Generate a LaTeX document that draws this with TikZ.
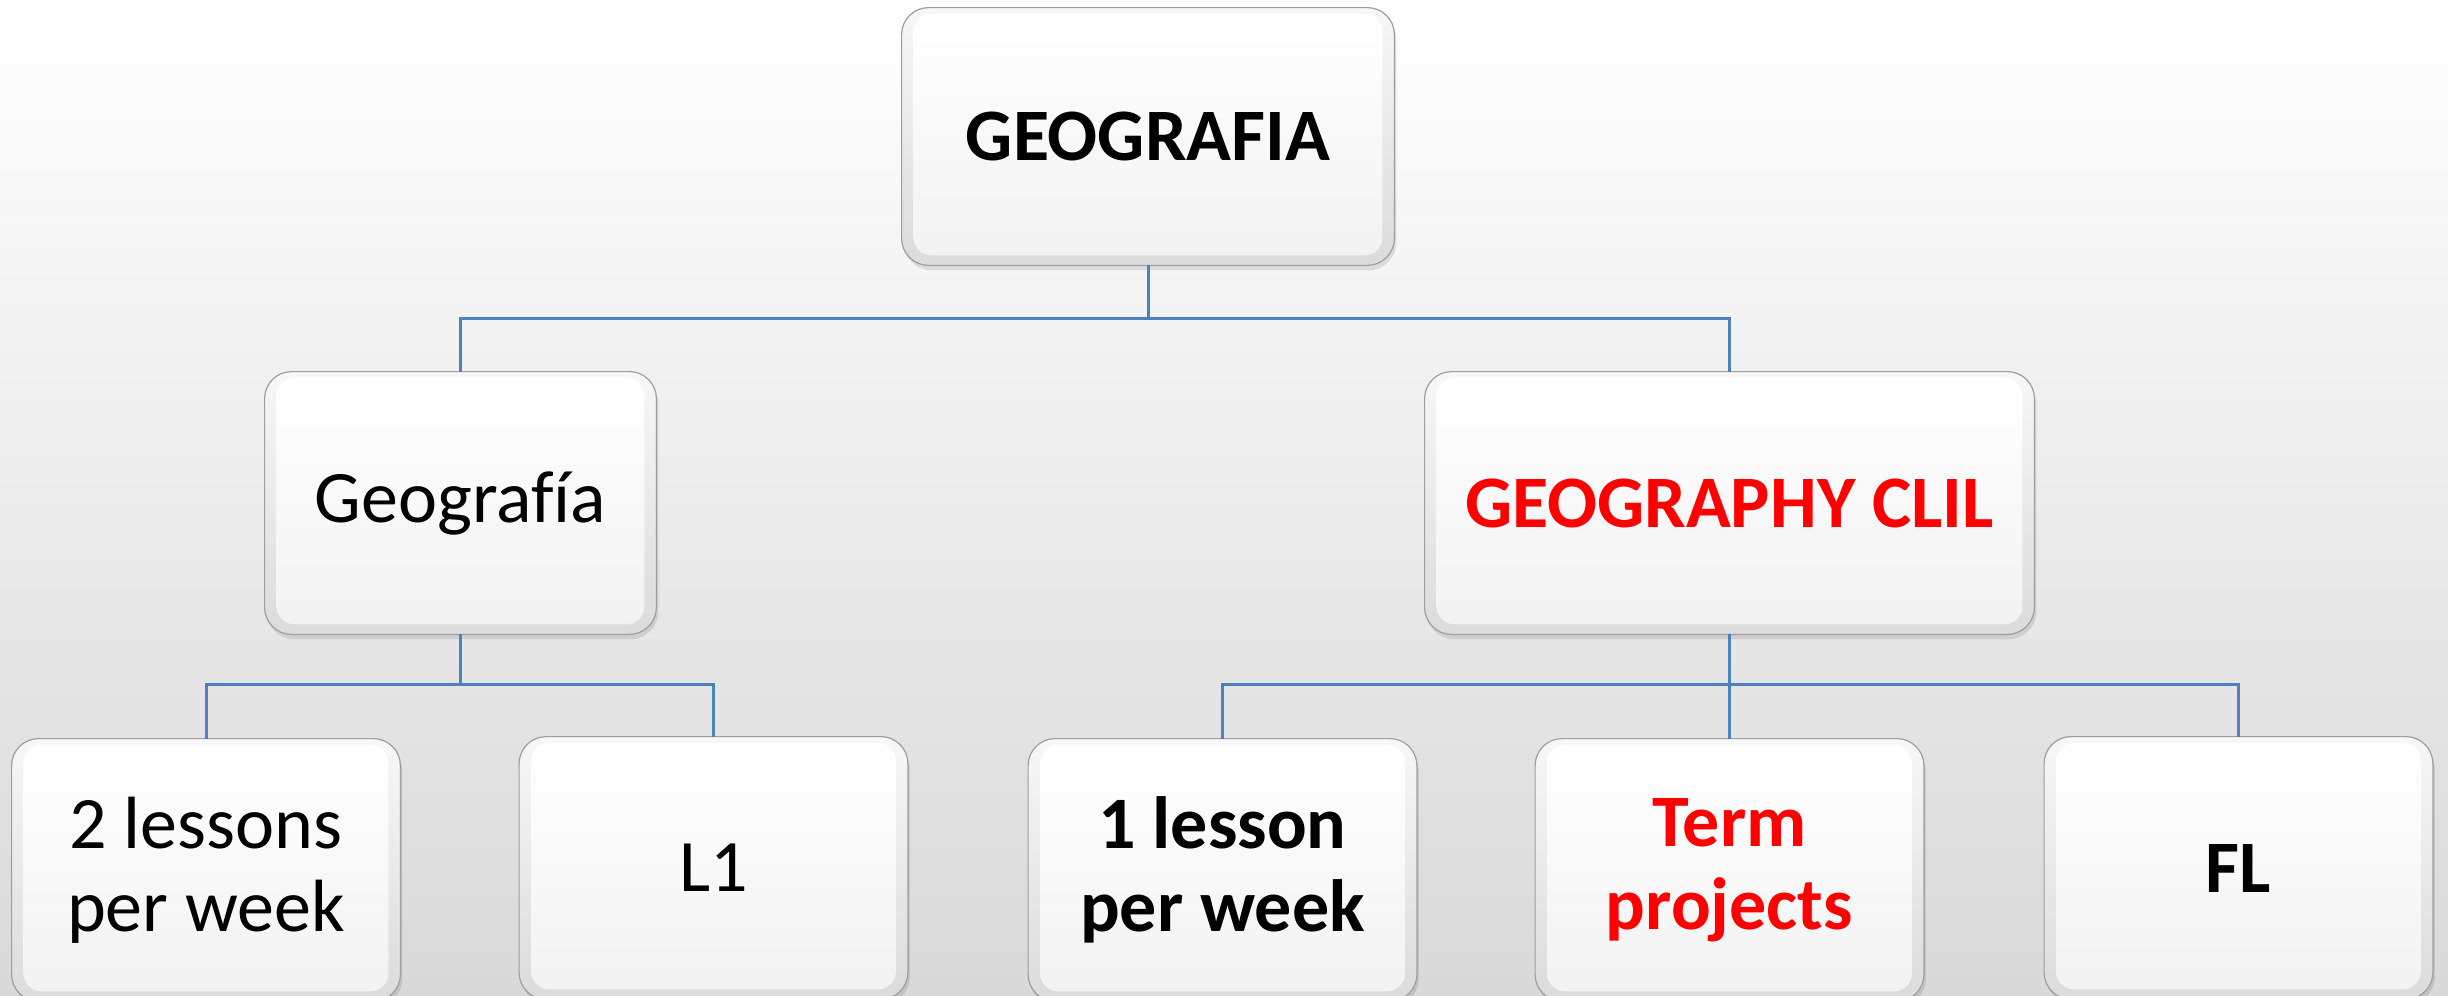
\documentclass[tikz,border=0pt]{standalone}
\usepackage{fontspec}
\setmainfont{Carlito}[Ligatures={NoCommon}]
\usetikzlibrary{backgrounds}
\definecolor{conncol}{RGB}{79,129,189}
\definecolor{redtxt}{RGB}{255,0,0}
\newcommand\bevelbox[1]{%
  \fill[black, opacity=0.10, rounded corners=14pt] ([xshift=1pt,yshift=-2.5pt]#1.south west) rectangle ([xshift=1pt,yshift=-2.5pt]#1.north east);
  \shade[rounded corners=13.5pt, top color=black!3, bottom color=black!14] (#1.south west) rectangle (#1.north east);
  \draw[rounded corners=13.5pt, draw=black!38, line width=0.6pt] (#1.south west) rectangle (#1.north east);
  \shade[rounded corners=9pt, top color=white, middle color=white, bottom color=black!5] ([xshift=6pt,yshift=5pt]#1.south west) rectangle ([xshift=-6pt,yshift=-3pt]#1.north east);
}
\begin{document}
\begin{tikzpicture}[x=0.5pt,y=-0.5pt,
  box/.style={inner sep=0pt, align=center, font=\fontsize{37pt}{41.5pt}\selectfont},
  hbox/.style={inner sep=0pt, align=center, font=\fontsize{37pt}{41.5pt}\selectfont\bfseries},
  midsize/.style={minimum width=195.5pt, minimum height=131pt},
  lowsize/.style={minimum width=194pt, minimum height=131pt},
  conn/.style={draw=conncol, line width=1.5pt}]
\useasboundingbox (0,0) rectangle (2448,996);
\clip (0,0) rectangle (2448,996);

% nodes
\node[hbox, minimum width=246pt, minimum height=128.5pt] (top) at (1148,136.5) {GEOGRAFIA};
\node[box, midsize] (geo) at (460.5,503) {Geografía};
\node[hbox, text=redtxt, minimum width=304.5pt, minimum height=131pt] (clil) at (1729.5,503) {GEOGRAPHY CLIL};
\node[box, lowsize] (b1) at (206,870) {2 lessons\\per week};
\node[box, lowsize] (b2) at (713.5,868) {L1};
\node[hbox, lowsize] (b3) at (1222.5,870) {1 lesson\\per week};
\node[hbox, text=redtxt, lowsize] (b4) at (1729.5,870) {Term\\projects};
\node[hbox, lowsize] (b5) at (2238.5,868) {FL};

\begin{pgfonlayer}{background}
  \shade[top color=white, bottom color=black!15] (0,0) rectangle (2448,996);
  \bevelbox{top}
  \bevelbox{geo}
  \bevelbox{clil}
  \bevelbox{b1}
  \bevelbox{b2}
  \bevelbox{b3}
  \bevelbox{b4}
  \bevelbox{b5}
\end{pgfonlayer}

% connectors
\coordinate (lvA) at (0,318);
\coordinate (lvB) at (0,684);
\draw[conn] (top.south) -- (top.south |- lvA) -| (geo.north);
\draw[conn] (top.south |- lvA) -| (clil.north);
\draw[conn] (geo.south) -- (geo.south |- lvB) -| (b1.north);
\draw[conn] (geo.south |- lvB) -| (b2.north);
\draw[conn] (clil.south) -- (clil.south |- lvB) -| (b3.north);
\draw[conn] (clil.south |- lvB) -- (b4.north);
\draw[conn] (clil.south |- lvB) -| (b5.north);
\end{tikzpicture}
\end{document}
